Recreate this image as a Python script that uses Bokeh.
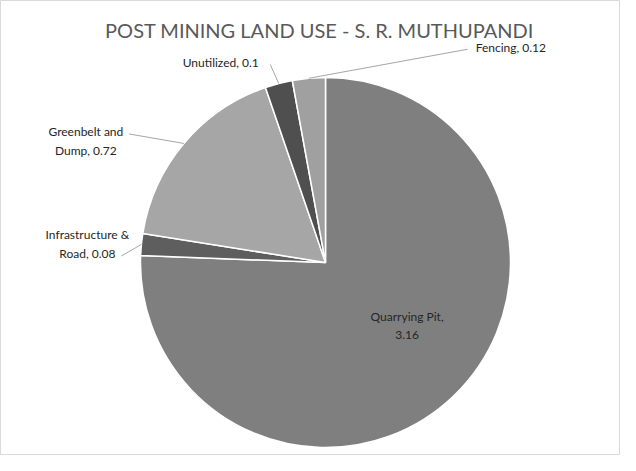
import numpy as np
from bokeh.plotting import figure
from bokeh.models import Label, ColumnDataSource
from bokeh.core.properties import value
from bokeh.embed import file_html
from bokeh.resources import INLINE

# ---- data ----
categories = ["Quarrying Pit", "Infrastructure & Road", "Greenbelt and Dump", "Unutilized", "Fencing"]
values = [3.16, 0.08, 0.72, 0.1, 0.12]
colors = ["#7f7f7f", "#5e5e5e", "#a6a6a6", "#4f4f4f", "#a0a0a0"]
title_text = "POST MINING LAND USE - S. R. MUTHUPANDI"

# ---- layout constants ----
W, H = 620, 455
CX, CY, R = 325, 193, 185
FONT = "Lato"
LINE_H = 19
first_line_words = [2, 2, 2, None, None]
label_rfac = [0.55, 1.0, 1.0, 1.0, 1.0]
label_offset = [(11, 10), (-54, 0), (-98, 2), (-58, 21), (202, 31)]
# leader: (side, line index) side +1 = from right end, -1 = from left end, 0 = none
leader_cfg = [(0, 0), (1, 1), (1, 0), (1, 0), (-1, 0)]
CHAR_W = 3.1  # half width per char

p = figure(width=W, height=H, x_range=(0, W), y_range=(0, H),
           output_backend="svg", toolbar_location=None, min_border=0)
p.axis.visible = False
p.grid.visible = False
p.outline_line_color = "#d9d9d9"
p.background_fill_color = "white"
p.border_fill_color = "white"

vals = np.array(values, dtype=float)
frac = vals / vals.sum()
ce = np.cumsum(frac) * 2 * np.pi
cs = ce - frac * 2 * np.pi
mid = (cs + ce) / 2

src = ColumnDataSource(dict(
    start=np.pi / 2 - cs, end=np.pi / 2 - ce, color=colors, cat=categories))
p.wedge(x=CX, y=CY, radius=R, start_angle="start", end_angle="end",
        direction="clock", fill_color="color", line_color="white", line_width=1.5,
        source=src)

tx, ty, tt = [], [], []
lx0, ly0, lx1, ly1 = [], [], [], []
for i, (cat, v) in enumerate(zip(categories, values)):
    full = f"{cat}, {v:g}"
    words = full.split(" ")
    n = first_line_words[i]
    lines = [" ".join(words[:n]), " ".join(words[n:])] if n else [full]
    ax = CX + label_rfac[i] * R * np.sin(mid[i]) + label_offset[i][0]
    ay = CY + label_rfac[i] * R * np.cos(mid[i]) + label_offset[i][1]
    nl = len(lines)
    ys = [ay + (nl - 1) / 2 * LINE_H - k * LINE_H for k in range(nl)]
    for line, yy in zip(lines, ys):
        tx.append(ax); ty.append(yy); tt.append(line)
    side, li = leader_cfg[i]
    if side != 0:
        hw = len(lines[li]) * CHAR_W + 3
        ex = CX + R * np.sin(mid[i])
        ey = CY + R * np.cos(mid[i])
        lx0.append(ax + side * hw); ly0.append(ys[li] - 2)
        lx1.append(ex); ly1.append(ey)

p.segment(x0=lx0, y0=ly0, x1=lx1, y1=ly1, line_color="#a6a6a6", line_width=1)
p.text(x=tx, y=ty, text=tt, text_align="center", text_baseline="middle",
       text_font=value(FONT), text_font_size="12px", text_color="#262626")

p.add_layout(Label(x=319, y=426, text=title_text, text_align="center",
                   text_baseline="middle", text_font=FONT, text_font_size="20px",
                   text_color="#595959"))

open("out.html", "w").write(file_html(p, INLINE))
